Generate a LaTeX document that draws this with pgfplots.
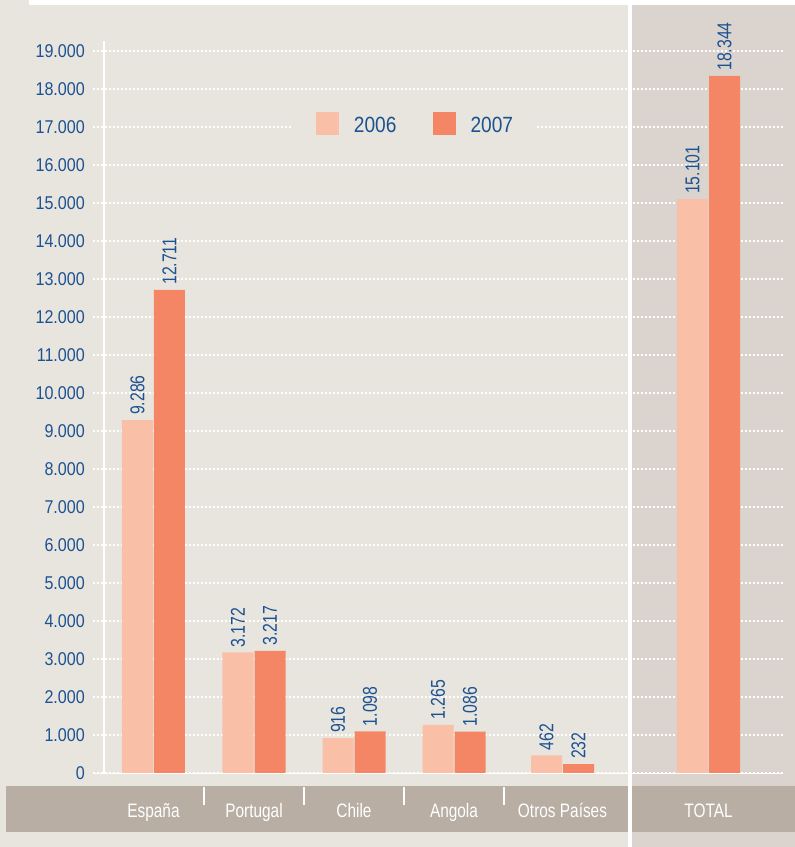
\documentclass[border=0pt]{standalone}
\usepackage{pgfplots}
\pgfplotsset{compat=1.18}
\usetikzlibrary{backgrounds}
\usepackage{fontspec}
\setmainfont{Liberation Sans}[FakeStretch=0.87]
\newfontfamily\cond{Liberation Sans}[FakeStretch=0.79]
\definecolor{bgL}{RGB}{232,228,222}
\definecolor{bgR}{RGB}{219,212,206}
\definecolor{band}{RGB}{185,174,163}
\definecolor{c06}{RGB}{249,191,167}
\definecolor{c07}{RGB}{245,134,101}
\definecolor{tblue}{RGB}{28,82,145}
\begin{document}
\begin{tikzpicture}
\begin{axis}[
  scale only axis,
  width=690pt, height=722pt,
  xmin=93, xmax=783, ymin=0, ymax=19000,
  clip=false,
  ybar=1pt, bar width=31pt,
  axis line style={draw=none}, major tick length=0pt,
  ytick={0,1000,...,19000}, scaled y ticks=false,
  ymajorgrids, grid style={white, line width=1.3pt, dash pattern=on 2pt off 2pt},
  xtick={153.5,254,354,454,562.5,708.5},
  xticklabels={España,Portugal,Chile,Angola,Otros Países,TOTAL},
  xticklabel style={anchor=base, yshift=-44pt, text=white, font=\cond\fontsize{19.5}{20}\selectfont},
  yticklabel style={anchor=east, inner sep=0pt, xshift=-8pt, text=tblue, font=\fontsize{18.5}{20}\selectfont},
  /pgf/number format/1000 sep={.},
  /pgf/number format/assume math mode=true,
  nodes near coords,
  nodes near coords style={rotate=90, anchor=west, text=tblue, inner xsep=5pt, font=\cond\fontsize{20}{20}\selectfont},
  legend style={at={(0.4660,0.8989)}, anchor=center, fill=bgL, draw=none,
    legend columns=2, inner xsep=24pt, inner ysep=4pt,
    font=\fontsize{22}{22}\selectfont, text=tblue,
    nodes={inner sep=0pt},
    /tikz/every odd column/.append style={column sep=15pt},
    /tikz/every even column/.append style={column sep=36pt}},
  legend image code/.code={\fill[#1] (0pt,-10pt) rectangle (23pt,13pt);},
]
\addplot[fill=c06, draw=none] coordinates {(153.5,9286) (254,3172) (354,916) (454,1265) (562.5,462) (708.5,15101)};
\addlegendentry{2006}
\addplot[fill=c07, draw=none] coordinates {(153.5,12711) (254,3217) (354,1098) (454,1086) (562.5,232) (708.5,18344)};
\addlegendentry{2007}
\coordinate (O) at (axis cs:93,0);
\end{axis}
% decorations in the reference's pixel grid (y up: y = 847 - y_px), origin of shift = axis corner (93,74)
\begin{scope}[shift={(O)}, xshift=-93pt, yshift=-74pt, x=1pt, y=1pt]
\draw[white, line width=1.5pt] (104,74) -- (104,806);
\draw[white, line width=1.4pt] (94,73.5) -- (628,73.5);
\draw[white, line width=1.4pt] (632,73.5) -- (783,73.5);
\end{scope}
\begin{scope}[on background layer, shift={(O)}, xshift=-93pt, yshift=-74pt, x=1pt, y=1pt]
\fill[bgL] (0,0) rectangle (795,847);
\fill[white] (29,842) rectangle (795,847);
\fill[bgR] (632,0) rectangle (795,842);
\fill[band] (6,15) rectangle (628,61);
\fill[band] (632,15) rectangle (795,61);
\fill[white] (628,0) rectangle (632,847);
\foreach \x in {203.5,303.5,403.5,503.5} \fill[white] (\x-1,42) rectangle (\x+1,60);
\end{scope}
\end{tikzpicture}
\end{document}
